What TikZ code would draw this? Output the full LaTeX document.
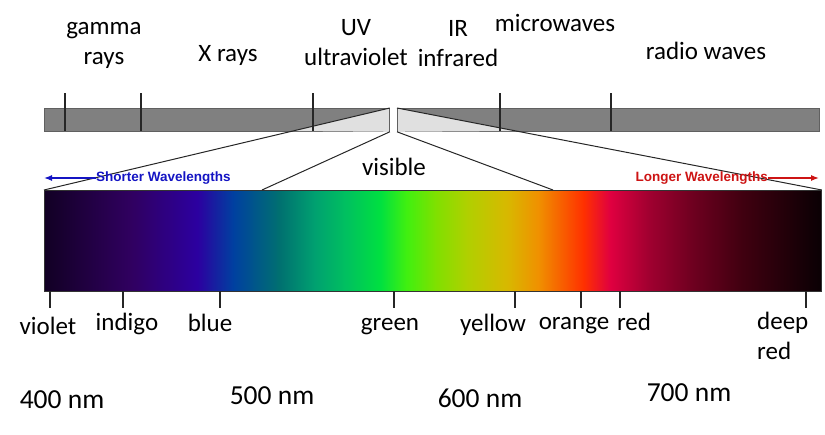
\documentclass[tikz,border=0pt]{standalone}
\usepackage{fontspec}
\setmainfont{Carlito}
\newfontfamily\wlfont{Liberation Sans}
\usetikzlibrary{arrows.meta,calc,positioning}
\definecolor{barfill}{RGB}{128,128,128}
\definecolor{barline}{RGB}{96,96,96}
\definecolor{visfill}{RGB}{224,224,224}
\definecolor{shortblue}{RGB}{20,20,195}
\definecolor{longred}{RGB}{205,20,20}
% spectrum colours, left to right
\definecolor{sa}{HTML}{120024}
\definecolor{sb}{HTML}{300060}
\definecolor{sc}{HTML}{2C00A0}
\definecolor{sd}{HTML}{0040A0}
\definecolor{se}{HTML}{007070}
\definecolor{sf}{HTML}{00A070}
\definecolor{sg}{HTML}{00C060}
\definecolor{sh}{HTML}{00E040}
\definecolor{si}{HTML}{40F010}
\definecolor{sj}{HTML}{80E000}
\definecolor{sk}{HTML}{B0D000}
\definecolor{sl}{HTML}{D8B800}
\definecolor{sm}{HTML}{F09000}
\definecolor{sn}{HTML}{FF3000}
\definecolor{so}{HTML}{E00040}
\definecolor{sp}{HTML}{A00030}
\definecolor{sq}{HTML}{700020}
\definecolor{sr}{HTML}{400010}
\definecolor{ss}{HTML}{100005}
\definecolor{st}{HTML}{0A0004}
\pgfdeclarehorizontalshading{spectrum}{100bp}{color(0bp)=(sa); color(25bp)=(sa);
  color(30.6bp)=(sb); color(34.85bp)=(sc); color(37.16bp)=(sd); color(40.12bp)=(se);
  color(42.37bp)=(sf); color(44.37bp)=(sg); color(46.62bp)=(sh); color(48.3bp)=(si);
  color(50.2bp)=(sj); color(52.2bp)=(sk); color(54.8bp)=(sl); color(56.8bp)=(sm);
  color(59.7bp)=(sn); color(61.4bp)=(so); color(63.9bp)=(sp); color(66.6bp)=(sq);
  color(69.9bp)=(sr); color(74.4bp)=(ss); color(75bp)=(st); color(100bp)=(st)}

\begin{document}
\begin{tikzpicture}[x=1pt,y=-1pt,>={Latex[length=8pt,width=6pt]},
    every node/.style={align=center,inner sep=0pt,font=\fontsize{25}{30}\selectfont},
    bandbar/.style={draw=barline,fill=barfill,line width=0.8pt,minimum height=23pt,anchor=north west},
    nmlabel/.style={font=\fontsize{27.5}{32}\selectfont},
    wllabel/.style={font=\wlfont\bfseries\fontsize{13.5}{16}\selectfont},
    guide/.style={draw=black!85,line width=1pt},
    tick/.style={line width=1.4pt,black!85}]
    \useasboundingbox (0,0) rectangle (825,434);
    % the two pieces of the band
    \node[bandbar,minimum width=345pt] (xbar) at (44,108) {};
    \node[bandbar,minimum width=422pt] (rbar) at (397,108) {};
    \node[draw=black!80,line width=0.8pt,shading=spectrum,minimum width=777pt,minimum height=101pt,anchor=north west] (spec) at (44,190) {};
    % visible part cut out of the band
    \coordinate (xcut) at ($(xbar.north east)!23/82!(spec.north west)$);
    \coordinate (rcut) at ($(rbar.north west)!23/82!(spec.north east)$);
    \fill[visfill] (xbar.north east) -- (xbar.south east) -- (xcut) -- cycle;
    \fill[visfill] (rbar.north west) -- (rbar.south west) -- (rcut) -- cycle;
    \draw[barline,line width=0.8pt] (xbar.north east) -- (xbar.south east);
    \draw[barline,line width=0.8pt] (rbar.north west) -- (rbar.south west);
    \foreach \x in {65,141,313,500,611}
      \draw[tick] (\x,93) -- (\x,131);
    \coordinate (vleft) at ($(spec.north west)+(218,0)$);
    \coordinate (vright) at ($(spec.north west)+(509,0)$);
    \draw[guide] (xbar.north east) -- (spec.north west);
    \draw[guide] (xbar.south east) -- (vleft);
    \draw[guide] (rbar.north west) -- (spec.north east);
    \draw[guide] (rbar.south west) -- (vright);
    % band names
    \node (gamma) at (104,45) {gamma\\rays};
    \node (xray) at (228,55) {X rays};
    \node (uv) at (356,43) {UV\\ultraviolet};
    \node (ir) at (458,44) {IR\\infrared};
    \node (micro) at (555,23) {microwaves};
    \node (radio) at (706,51) {radio waves};
    \node (vis) at (394,167) {visible};
    % wavelength direction
    \node[wllabel,text=shortblue,anchor=west] (swl) at (96,178) {Shorter Wavelengths};
    \node[wllabel,text=longred,anchor=east] (lwl) at (768,178) {Longer Wavelengths};
    \coordinate (sleft) at (44,178);
    \coordinate (lright) at (819,178);
    \draw[->,shortblue,line width=1.3pt] (swl.west) -- (sleft);
    \draw[->,longred,line width=1.3pt] (lwl.east) -- (lright);
    % colour ticks
    \foreach \x in {50,123,220,394,515,581,620,806}
      \draw[tick] (\x,291) -- (\x,308);
    \node (violet) at (48,326) {violet};
    \node (indigo) at (127,324) {indigo};
    \node (blue) at (210,323) {blue};
    \node (green) at (390,327) {green};
    \node (yellow) at (493,325) {yellow};
    \node (orange) at (574,326) {orange};
    \node (red) at (634,322) {red};
    \node[align=left,anchor=west] (deep) at (757,336) {deep\\red};
    % wavelengths
    \node[nmlabel] (n400) at (62,400) {400 nm};
    \node[nmlabel] (n500) at (272,396) {500 nm};
    \node[nmlabel] (n600) at (480,398) {600 nm};
    \node[nmlabel] (n700) at (689,393) {700 nm};
\end{tikzpicture}
\end{document}
